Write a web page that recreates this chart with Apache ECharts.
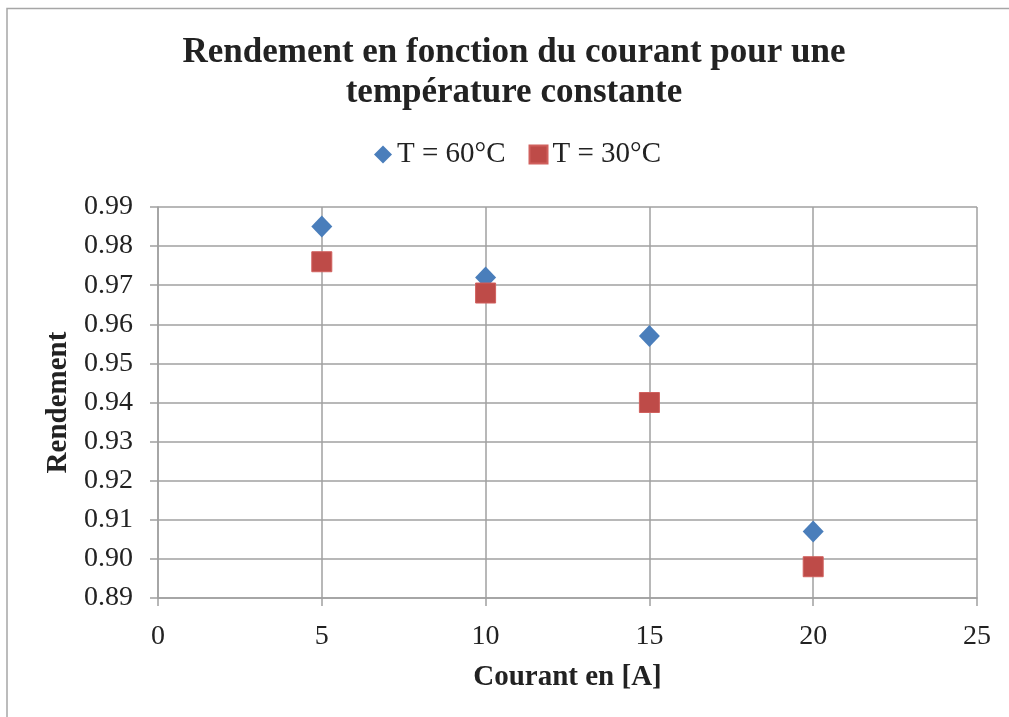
<!DOCTYPE html>
<html><head><meta charset="utf-8">
<script src="https://cdn.jsdelivr.net/npm/echarts@6/dist/echarts.min.js"></script>
<style>html,body{margin:0;padding:0;background:#fff}#c{width:1009px;height:717px}</style>
</head><body><div id="c"></div>
<script>
const currents = [5, 10, 15, 20];
const eff60 = [0.985, 0.972, 0.957, 0.907];
const eff30 = [0.976, 0.968, 0.940, 0.898];
const seriesNames = ['T = 60°C', 'T = 30°C'];
const titleText = 'Rendement en fonction du courant pour une\ntempérature constante';
const xName = 'Courant en [A]';
const yName = 'Rendement';

const font = '"Liberation Serif", "DejaVu Serif", serif';
const chart = echarts.init(document.getElementById('c'), null, {renderer: 'canvas'});
chart.setOption({
  animation: false,
  backgroundColor: '#fff',
  graphic: [{type: 'rect', shape: {x: 7, y: 8.5, width: 1100, height: 800}, style: {fill: 'none', stroke: '#a6a6a6', lineWidth: 1.5}, z: -1}],
  title: {
    text: titleText, left: 509, textAlign: 'center', top: 28,
    textStyle: {fontFamily: font, fontWeight: 'bold', fontSize: 35, color: '#222', lineHeight: 40}
  },
  legend: {
    top: 135, left: 369, itemGap: 23, itemWidth: 18, itemHeight: 18,
    textStyle: {fontFamily: font, fontSize: 29, color: '#222', padding: [0, 0, 0, 0]},
    data: [{name: seriesNames[0], icon: 'diamond'}, {name: seriesNames[1], icon: 'rect'}]
  },
  grid: {left: 158, right: 32, top: 207, height: 391, containLabel: false},
  xAxis: {
    type: 'value', min: 0, max: 25, interval: 5,
    name: xName, nameLocation: 'middle', nameGap: 65,
    nameTextStyle: {fontFamily: font, fontWeight: 'bold', fontSize: 29, color: '#222'},
    axisLine: {show: true, lineStyle: {color: '#a0a0a0', width: 1.5}},
    axisTick: {show: true, length: 8, inside: false, lineStyle: {color: '#a0a0a0', width: 1.5}},
    axisLabel: {fontFamily: font, fontSize: 28, color: '#222', margin: 25},
    splitLine: {show: true, lineStyle: {color: '#a0a0a0', width: 1.5}}
  },
  yAxis: {
    type: 'value', min: 0.89, max: 0.99, interval: 0.01,
    name: yName, nameLocation: 'middle', nameGap: 84, nameRotate: 90,
    nameTextStyle: {fontFamily: font, fontWeight: 'bold', fontSize: 29, color: '#222'},
    axisLine: {show: true, lineStyle: {color: '#a0a0a0', width: 1.5}},
    axisTick: {show: true, length: 8, lineStyle: {color: '#a0a0a0', width: 1.5}},
    axisLabel: {fontFamily: font, fontSize: 28, color: '#222', margin: 25, formatter: v => v.toFixed(2)},
    splitLine: {show: true, lineStyle: {color: '#a0a0a0', width: 1.5}}
  },
  series: [
    {name: seriesNames[0], type: 'scatter', symbol: 'diamond', symbolSize: [21, 22],
     itemStyle: {color: '#4a7ebb', opacity: 1}, data: currents.map((c, i) => [c, eff60[i]]), z: 3},
    {name: seriesNames[1], type: 'scatter', symbol: 'rect', symbolSize: 20,
     itemStyle: {color: '#be4b48', borderColor: '#d0605d', borderWidth: 1, opacity: 1}, data: currents.map((c, i) => [c, eff30[i]]), z: 4}
  ]
});
</script></body></html>
